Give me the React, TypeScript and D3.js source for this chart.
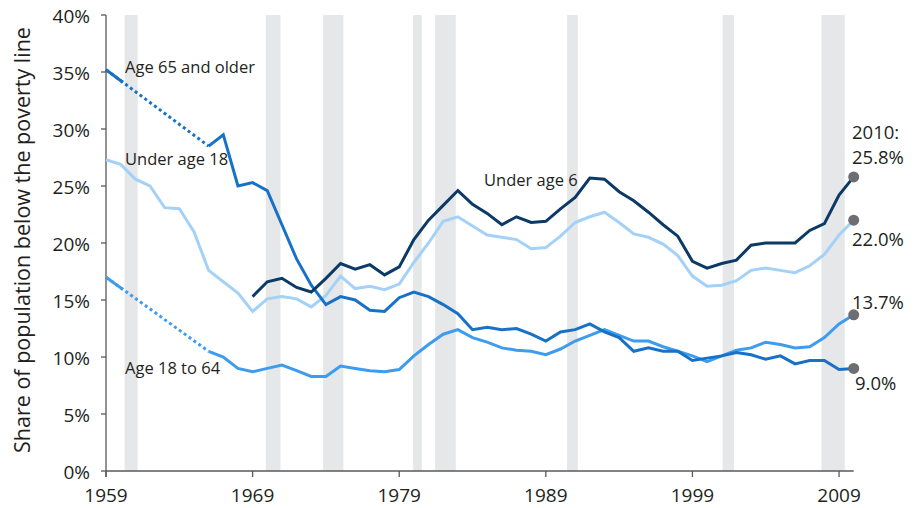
import React from "react";
import * as d3 from "d3";

const years: number[] = d3.range(1959, 2011);

const under18: number[] = [
  27.3, 26.9, 25.6, 25.0, 23.1, 23.0, 21.0, 17.6, 16.6, 15.6,
  14.0, 15.1, 15.3, 15.1, 14.4, 15.4, 17.1, 16.0, 16.2, 15.9,
  16.4, 18.3, 20.0, 21.9, 22.3, 21.5, 20.7, 20.5, 20.3, 19.5,
  19.6, 20.6, 21.8, 22.3, 22.7, 21.8, 20.8, 20.5, 19.9, 18.9,
  17.1, 16.2, 16.3, 16.7, 17.6, 17.8, 17.6, 17.4, 18.0, 19.0,
  20.7, 22.0,
];

const age65: (number | null)[] = [
  35.2, null, null, null, null, null, null,
  28.5, 29.5, 25.0, 25.3, 24.6, 21.6, 18.6, 16.3, 14.6, 15.3,
  15.0, 14.1, 14.0, 15.2, 15.7, 15.3, 14.6, 13.8, 12.4, 12.6,
  12.4, 12.5, 12.0, 11.4, 12.2, 12.4, 12.9, 12.2, 11.7, 10.5,
  10.8, 10.5, 10.5, 9.7, 9.9, 10.1, 10.4, 10.2, 9.8, 10.1,
  9.4, 9.7, 9.7, 8.9, 9.0,
];

const age18to64: (number | null)[] = [
  17.0, null, null, null, null, null, null,
  10.5, 10.0, 9.0, 8.7, 9.0, 9.3, 8.8, 8.3, 8.3, 9.2,
  9.0, 8.8, 8.7, 8.9, 10.1, 11.1, 12.0, 12.4, 11.7, 11.3,
  10.8, 10.6, 10.5, 10.2, 10.7, 11.4, 11.9, 12.4, 11.9, 11.4,
  11.4, 10.9, 10.5, 10.1, 9.6, 10.1, 10.6, 10.8, 11.3, 11.1,
  10.8, 10.9, 11.7, 12.9, 13.7,
];

const under6Start = 1969;
const under6: number[] = [
  15.3, 16.6, 16.9, 16.1, 15.7, 16.9, 18.2, 17.7, 18.1, 17.2,
  17.9, 20.3, 22.0, 23.3, 24.6, 23.4, 22.6, 21.6, 22.3, 21.8,
  21.9, 23.0, 24.0, 25.7, 25.6, 24.5, 23.7, 22.7, 21.6, 20.6,
  18.4, 17.8, 18.2, 18.5, 19.8, 20.0, 20.0, 20.0, 21.1, 21.7,
  24.2, 25.8,
];

const recessions: [number, number][] = [
  [1960.27, 1961.16],
  [1969.9, 1970.9],
  [1973.81, 1975.19],
  [1979.95, 1980.54],
  [1981.45, 1982.86],
  [1990.45, 1991.18],
  [2001.06, 2001.84],
  [2007.8, 2009.39],
];

const yTicks: number[] = [0, 5, 10, 15, 20, 25, 30, 35, 40];
const xTicks: number[] = [1959, 1969, 1979, 1989, 1999, 2009];
const solidStubUntil = 1960.15;

const C = {
  under6: "#0c3a67",
  age65: "#1771c6",
  age1864: "#3d9cee",
  under18: "#a4d1f7",
  rec: "#e6e7e8",
  dot: "#6d6e71",
  axis: "#58595b",
  text: "#231f20",
};

const FONT = "'Open Sans', sans-serif";

type Pt = [number, number];

export default function App() {
  const W = 915;
  const H = 508;
  const x = d3.scaleLinear().domain([1959, 2010]).range([106, 853.7]);
  const y = d3.scaleLinear().domain([0, 40]).range([471, 15]);

  const line = d3
    .line<Pt>()
    .x((d) => x(d[0]))
    .y((d) => y(d[1]));

  const toPts = (vals: (number | null)[], start: number): Pt[] =>
    vals
      .map((v, i) => (v == null ? null : ([start + i, v] as Pt)))
      .filter((d): d is Pt => d != null);

  const u18Pts = toPts(under18, years[0]);
  const u6Pts = toPts(under6, under6Start);
  const a65All = toPts(age65, years[0]);
  const a1864All = toPts(age18to64, years[0]);

  const splitSeries = (all: Pt[]) => {
    const first = all[0];
    const main = all.slice(1);
    const next = main[0];
    const t = (solidStubUntil - first[0]) / (next[0] - first[0]);
    const stubEnd: Pt = [solidStubUntil, d3.interpolateNumber(first[1], next[1])(t)];
    return { main, gap: [first, next] as Pt[], stub: [first, stubEnd] as Pt[] };
  };
  const a65 = splitSeries(a65All);
  const a1864 = splitSeries(a1864All);

  const sw = 3;
  const ends: Pt[] = [
    u6Pts[u6Pts.length - 1],
    u18Pts[u18Pts.length - 1],
    a1864All[a1864All.length - 1],
    a65All[a65All.length - 1],
  ];

  const lastX = x(2010);

  return (
    <svg
      width={W}
      height={H}
      style={{ position: "absolute", left: 0, top: 0, background: "#fff" }}
      fontFamily={FONT}
    >
      <rect x={0} y={0} width={W} height={H} fill="#fff" />
      {recessions.map(([a, b], i) => (
        <rect key={i} x={x(a)} y={y(40)} width={x(b) - x(a)} height={y(0) - y(40)} fill={C.rec} />
      ))}

      {/* axes */}
      <g stroke={C.axis} strokeWidth={1.3} fill="none">
        <line x1={x(1959)} x2={x(1959)} y1={y(40)} y2={y(0) + 6} />
        <line x1={x(1959)} x2={lastX} y1={y(0)} y2={y(0)} />
        {yTicks.map((t) => (
          <line key={t} x1={x(1959) - 5} x2={x(1959)} y1={y(t)} y2={y(t)} />
        ))}
        {xTicks.map((t) => (
          <line key={t} x1={x(t)} x2={x(t)} y1={y(0)} y2={y(0) + 6} />
        ))}
      </g>
      <g fill={C.text} fontSize={19}>
        {yTicks.map((t) => (
          <text key={t} x={x(1959) - 16} y={y(t) + 7.5} textAnchor="end">
            {t}%
          </text>
        ))}
        {xTicks.map((t) => (
          <text key={t} x={x(t)} y={502} textAnchor="middle">
            {t}
          </text>
        ))}
      </g>
      <text
        transform={`translate(30,240) rotate(-90)`}
        textAnchor="middle"
        fontSize={21.5}
        fill={C.text}
      >
        Share of population below the poverty line
      </text>

      {/* lines */}
      <g fill="none" strokeWidth={sw} strokeLinejoin="miter">
        <path d={line(u18Pts) || ""} stroke={C.under18} />
        <path d={line(a1864.main) || ""} stroke={C.age1864} />
        <path d={line(a1864.stub) || ""} stroke={C.age1864} />
        <path d={line(a1864.gap) || ""} stroke={C.age1864} strokeDasharray="3 3" />
        <path d={line(a65.main) || ""} stroke={C.age65} />
        <path d={line(a65.stub) || ""} stroke={C.age65} />
        <path d={line(a65.gap) || ""} stroke={C.age65} strokeDasharray="3 3" />
        <path d={line(u6Pts) || ""} stroke={C.under6} />
      </g>

      {ends.map((d, i) => (
        <circle key={i} cx={x(d[0])} cy={y(d[1])} r={5.5} fill={C.dot} />
      ))}

      {/* annotations */}
      <g fill={C.text} fontSize={16.5}>
        <text x={125} y={73}>Age 65 and older</text>
        <text x={125} y={165}>Under age 18</text>
        <text x={125} y={374}>Age 18 to 64</text>
        <text x={484} y={186}>Under age 6</text>
      </g>
      <g fill={C.text} fontSize={18.5}>
        <text x={852} y={139}>2010:</text>
        <text x={852} y={164}>{d3.format(".1f")(ends[0][1])}%</text>
        <text x={852} y={246}>{d3.format(".1f")(ends[1][1])}%</text>
        <text x={852} y={309}>{d3.format(".1f")(ends[2][1])}%</text>
        <text x={855} y={390}>{d3.format(".1f")(ends[3][1])}%</text>
      </g>
    </svg>
  );
}
